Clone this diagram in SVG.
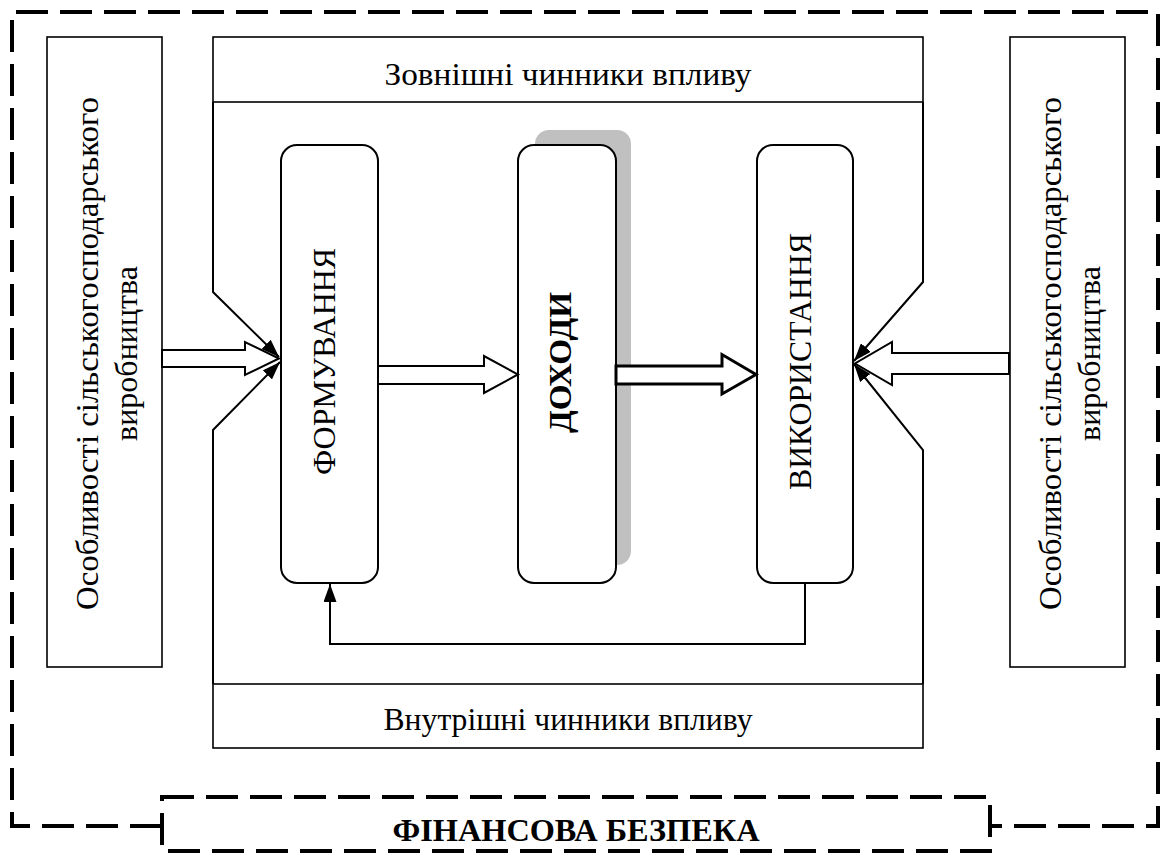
<svg xmlns="http://www.w3.org/2000/svg" width="1161" height="856" viewBox="0 0 1161 856">
<style>
.t{font-family:"Liberation Serif","Times New Roman",serif;font-size:32px;fill:#000}
.b{font-weight:bold}
.box{fill:#fff;stroke:#000;stroke-width:1.6}
.rbox{fill:#fff;stroke:#000;stroke-width:2}
.dash{fill:none;stroke:#000;stroke-width:4;stroke-dasharray:32 12}
.ln{fill:none;stroke:#000;stroke-width:2}
.blk{fill:#fff;stroke:#000;stroke-width:2;stroke-linejoin:miter}
</style>
<defs>
<marker id="ah" viewBox="0 0 18 13" refX="18" refY="6.5" markerWidth="18" markerHeight="13" markerUnits="userSpaceOnUse" orient="auto">
<path d="M0,0 L18,6.5 L0,13 z" fill="#000"/>
</marker>
</defs>
<rect width="1161" height="856" fill="#fff"/>

<g id="frame">
<path class="dash" d="M162 826 H12 V12 H1158 V826 H990"/>
</g>

<g id="left-features">
<rect class="box" x="47" y="37" width="115" height="630"/>
<text class="t" transform="translate(98,353.5) rotate(-90)" text-anchor="middle" textLength="513" lengthAdjust="spacingAndGlyphs">Особливості сільськогосподарського</text>
<text class="t" transform="translate(137,353.5) rotate(-90)" text-anchor="middle">виробництва</text>
</g>

<g id="right-features">
<rect class="box" x="1010" y="37" width="115" height="630"/>
<text class="t" transform="translate(1061,353.5) rotate(-90)" text-anchor="middle" textLength="513" lengthAdjust="spacingAndGlyphs">Особливості сільськогосподарського</text>
<text class="t" transform="translate(1100,353.5) rotate(-90)" text-anchor="middle">виробництва</text>
</g>

<g id="external">
<rect class="box" x="213" y="37" width="710" height="65"/>
<text class="t" x="568" y="85" text-anchor="middle" textLength="367" lengthAdjust="spacingAndGlyphs">Зовнішні чинники впливу</text>
</g>

<g id="internal">
<rect class="box" x="213" y="684" width="710" height="64"/>
<text class="t" x="568" y="730" text-anchor="middle" textLength="369" lengthAdjust="spacingAndGlyphs">Внутрішні чинники впливу</text>
</g>

<g id="formuvannia">
<rect class="rbox" x="281" y="145" width="97" height="438" rx="16"/>
<text class="t" transform="translate(335,361.5) rotate(-90)" text-anchor="middle" textLength="227" lengthAdjust="spacingAndGlyphs">ФОРМУВАННЯ</text>
</g>

<g id="dokhody">
<rect x="535" y="130" width="96" height="435" rx="14" fill="#c0c0c0"/>
<rect class="rbox" x="518" y="145" width="98" height="438" rx="16"/>
<text class="t b" transform="translate(571,362.5) rotate(-90)" text-anchor="middle" textLength="141" lengthAdjust="spacingAndGlyphs">ДОХОДИ</text>
</g>

<g id="vykorystannia">
<rect class="rbox" x="757" y="145" width="96" height="438" rx="16"/>
<text class="t" transform="translate(811,361.5) rotate(-90)" text-anchor="middle" textLength="257" lengthAdjust="spacingAndGlyphs">ВИКОРИСТАННЯ</text>
</g>

<g id="connectors">
<polygon class="blk" points="162,350 245,350 245,342 279,358.5 245,375 245,367 162,367"/>
<polygon class="blk" points="378,366 484,366 484,356 518,374.5 484,393 484,384 378,384"/>
<polygon class="blk" style="stroke-width:3" points="616,366 722,366 722,354.5 756,374.5 722,394 722,384 616,384"/>
<polygon class="blk" points="1009,353 892,353 892,342 855,363.5 892,385 892,374 1009,374"/>
<path class="ln" d="M213 102 V292 L279 357" marker-end="url(#ah)"/>
<path class="ln" d="M213 684 V430 L280 362" marker-end="url(#ah)"/>
<path class="ln" d="M923 102 V282 L854 361" marker-end="url(#ah)"/>
<path class="ln" d="M923 684 V450 L854 364" marker-end="url(#ah)"/>
<path class="ln" d="M805 583 V644 H330 V584" marker-end="url(#ah)"/>
</g>

<g id="financial-security">
<rect x="162" y="797" width="828" height="54" fill="#fff" stroke="#000" stroke-width="4" stroke-dasharray="32 12"/>
<text class="t b" x="576" y="841" text-anchor="middle" font-size="30" textLength="367" lengthAdjust="spacingAndGlyphs">ФІНАНСОВА БЕЗПЕКА</text>
</g>
</svg>
